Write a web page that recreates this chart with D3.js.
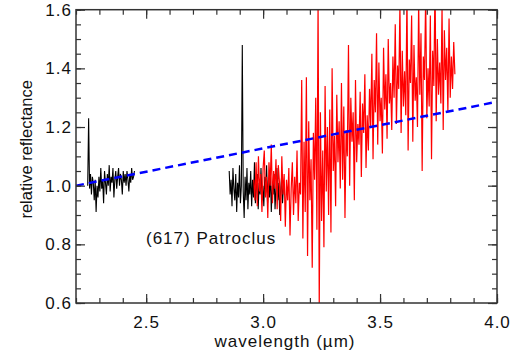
<!DOCTYPE html>
<html>
<head>
<meta charset="utf-8">
<script src="https://cdn.jsdelivr.net/npm/d3@7"></script>
<style>
  body { margin: 0; background: #fff; }
  text { font-family: "Liberation Sans", Arial, sans-serif; fill: #111; }
</style>
</head>
<body>
<svg id="chart" width="520" height="353"></svg>
<script>
// wavelength grids (start, step) for each spectrum piece
const black1Start = 2.25, black1Step = 0.004;
const black1 = [1.00, 1.23, 0.99, 1.04, 0.97, 1.03, 1.01, 0.95, 1.02, 0.91, 1.00, 0.96, 1.03, 0.98, 1.06, 0.99, 1.02, 0.94,
  1.05, 1.01, 0.97, 1.04, 1.00, 1.07, 0.98, 1.03, 1.01, 1.06, 0.96, 1.02, 1.05, 0.99, 1.03, 1.06, 1.00, 1.04, 1.02, 0.97,
  1.05, 1.01, 1.04, 1.00, 1.05, 1.02, 0.98, 1.04, 1.01, 1.06, 1.02, 1.03, 1.05];

const black2Start = 2.855, black2Step = 0.004;
const black2 = [1.05, 0.97, 1.02, 0.93, 1.06, 0.99, 0.95, 1.04, 0.91, 1.01, 0.96, 1.07, 0.94, 1.00, 1.48, 0.98, 0.89, 1.03,
  0.95, 1.06, 0.92, 1.01, 0.97, 1.05, 0.93, 1.02, 0.96, 1.08, 0.94, 0.99, 1.04, 0.92, 1.01, 0.97, 1.06, 0.95, 1.00, 0.93,
  1.03, 0.98, 1.07, 0.94, 1.02, 0.96, 1.05, 0.91, 1.00, 0.97, 1.04, 0.92, 0.99, 1.06, 0.95, 1.01, 0.90, 0.98, 1.03, 0.94, 1.00];

const redStart = 2.96, redStep = 0.005;
const red = [
  1.02, 0.95, 1.08, 0.93, 1.10, 0.98, 1.04, 0.91, 1.06, 1.12,
  0.96, 1.03, 0.89, 1.08, 1.00, 1.14, 0.94, 1.05, 0.99, 1.09,
  0.92, 1.07, 1.01, 0.88, 1.10, 0.97, 1.04, 0.86, 1.02, 0.95,
  1.06, 0.83, 0.99, 1.08, 0.90, 1.03, 0.94, 1.12, 0.88, 1.01,
  0.97, 1.36, 0.82, 1.15, 0.91, 1.37, 0.76, 1.22, 0.95, 1.09,
  0.72, 1.18, 1.02, 1.30, 0.85, 1.64, 0.58, 1.25, 0.88, 1.12,
  0.79, 1.34, 0.98, 1.20, 0.90, 1.26, 0.84, 1.40, 1.05, 1.17,
  0.93, 1.31, 1.08, 1.22, 0.99, 1.35, 1.02, 1.27, 0.89, 1.19,
  1.10, 1.48, 1.00, 1.30, 1.15, 1.25, 0.95, 1.36, 1.08, 1.21,
  1.14, 1.32, 1.03, 1.28, 1.18, 1.38, 1.06, 1.24, 1.12, 1.33,
  1.20, 1.45, 1.09, 1.36, 1.25, 1.52, 1.14, 1.42, 1.22, 1.30,
  1.11, 1.47, 1.26, 1.38, 1.16, 1.50, 1.28, 1.35, 1.19, 1.44,
  1.30, 1.55, 1.21, 1.41, 1.33, 1.62, 1.18, 1.46, 1.27, 1.39,
  1.24, 1.66, 1.12, 1.43, 1.35, 1.58, 1.15, 1.48, 1.29, 1.37,
  1.20, 1.63, 1.31, 1.52, 1.05, 1.44, 1.36, 1.65, 1.23, 1.40,
  1.27, 1.58, 1.09, 1.46, 1.34, 1.70, 1.22, 1.50, 1.31, 1.42,
  1.28, 1.61, 1.19, 1.53, 1.36, 1.47, 1.25, 1.57, 1.30, 1.44,
  1.33, 1.49, 1.38];

// linear continuum fit
const fitX = [2.2, 4.0];
const fitY = [1.0, 1.286];

const xMajor = [2.5, 3.0, 3.5, 4.0];
const yMajor = [0.6, 0.8, 1.0, 1.2, 1.4, 1.6];

const mLeft = 76, mRight = 497, mTop = 9.7, mBottom = 303;

const svg = d3.select("#chart");

const x = d3.scaleLinear().domain([2.2, 4.0]).range([mLeft, mRight]);
const y = d3.scaleLinear().domain([0.6, 1.6]).range([mBottom, mTop]);

function toPts(start, step, vals) {
  return vals.map((v, i) => [start + i * step, v]);
}

svg.append("clipPath").attr("id", "clip")
  .append("rect")
  .attr("x", mLeft).attr("y", mTop)
  .attr("width", mRight - mLeft).attr("height", mBottom - mTop);

const line = d3.line().x(d => x(d[0])).y(d => y(d[1]));

const plot = svg.append("g").attr("clip-path", "url(#clip)");

plot.append("path")
  .datum(toPts(black1Start, black1Step, black1))
  .attr("d", line).attr("fill", "none").attr("stroke", "#000").attr("stroke-width", 1.1);

plot.append("path")
  .datum(toPts(black2Start, black2Step, black2))
  .attr("d", line).attr("fill", "none").attr("stroke", "#000").attr("stroke-width", 1.1);

plot.append("path")
  .datum(toPts(redStart, redStep, red))
  .attr("d", line).attr("fill", "none").attr("stroke", "#ff0000").attr("stroke-width", 1.2);

plot.append("path")
  .datum(fitX.map((v, i) => [v, fitY[i]]))
  .attr("d", line).attr("fill", "none")
  .attr("stroke", "#0000ff").attr("stroke-width", 2.5)
  .attr("stroke-dasharray", "8,5");

// axes, ticks pointing inward on all four sides
const xMinor = d3.range(22, 41).map(d => d / 10);
const yMinor = d3.range(12, 33).map(d => d / 20);

svg.append("g").attr("transform", `translate(0,${mBottom})`)
  .call(d3.axisBottom(x).tickValues(xMinor).tickSize(-5).tickFormat(""));
svg.append("g").attr("transform", `translate(0,${mBottom})`)
  .call(d3.axisBottom(x).tickValues(xMajor).tickSize(-9).tickPadding(13).tickFormat(d3.format(".1f")));
svg.append("g").attr("transform", `translate(0,${mTop})`)
  .call(d3.axisTop(x).tickValues(xMinor).tickSize(-5).tickFormat(""));
svg.append("g").attr("transform", `translate(0,${mTop})`)
  .call(d3.axisTop(x).tickValues(xMajor).tickSize(-9).tickFormat(""));

svg.append("g").attr("transform", `translate(${mLeft},0)`)
  .call(d3.axisLeft(y).tickValues(yMinor).tickSize(-5).tickFormat(""));
svg.append("g").attr("transform", `translate(${mLeft},0)`)
  .call(d3.axisLeft(y).tickValues(yMajor).tickSize(-9).tickPadding(4).tickFormat(d3.format(".1f")));
svg.append("g").attr("transform", `translate(${mRight},0)`)
  .call(d3.axisRight(y).tickValues(yMinor).tickSize(-5).tickFormat(""));
svg.append("g").attr("transform", `translate(${mRight},0)`)
  .call(d3.axisRight(y).tickValues(yMajor).tickSize(-9).tickFormat(""));

svg.selectAll(".domain").remove();
svg.selectAll(".tick line").attr("stroke", "#333").attr("stroke-width", 1.2);
svg.selectAll(".tick text").attr("font-size", 17).attr("fill", "#111")
  .attr("letter-spacing", 1)
  .attr("font-family", "Liberation Sans, Arial, sans-serif");

svg.append("rect")
  .attr("x", mLeft).attr("y", mTop)
  .attr("width", mRight - mLeft).attr("height", mBottom - mTop)
  .attr("fill", "none").attr("stroke", "#333").attr("stroke-width", 1.5);

svg.append("text")
  .attr("x", 285).attr("y", 347)
  .attr("text-anchor", "middle").attr("font-size", 17)
  .attr("letter-spacing", 1)
  .text("wavelength (\u00b5m)");

svg.append("text")
  .attr("transform", `translate(32,${(mTop + mBottom) / 2 - 7}) rotate(-90)`)
  .attr("text-anchor", "middle").attr("font-size", 16.5)
  .text("relative reflectance");

svg.append("text")
  .attr("x", 146).attr("y", 244)
  .attr("font-size", 17)
  .attr("letter-spacing", 1)
  .text("(617) Patroclus");
</script>
</body>
</html>
